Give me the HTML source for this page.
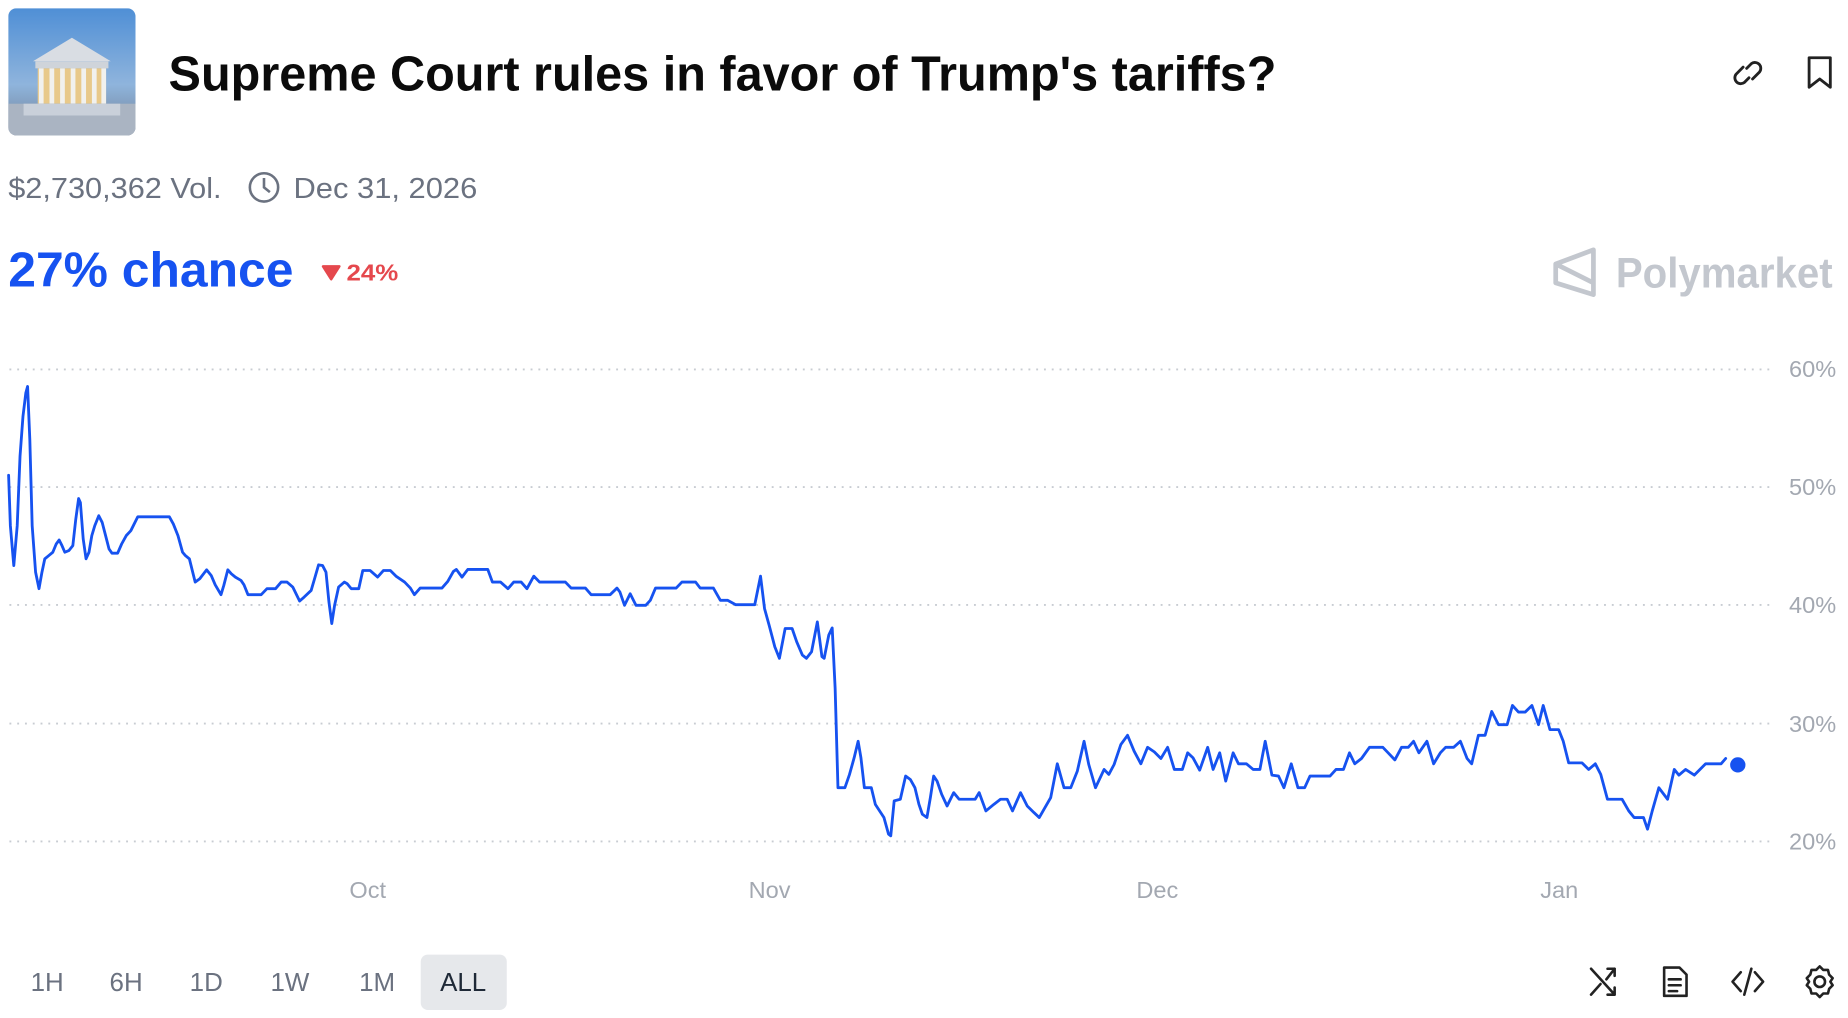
<!DOCTYPE html>
<html><head><meta charset="utf-8"><style>
html,body{margin:0;padding:0;background:#fff;width:1848px;height:1018px;overflow:hidden}
svg{display:block}
text{font-family:"Liberation Sans",sans-serif}
</style></head><body>
<svg id="s" width="1848" height="1018" viewBox="0 0 1568 863.8" preserveAspectRatio="none" xmlns="http://www.w3.org/2000/svg">
<defs>
<linearGradient id="sky" x1="0" y1="0" x2="0" y2="1"><stop offset="0" stop-color="#4f8fd6"/><stop offset="0.6" stop-color="#8fb4dc"/><stop offset="1" stop-color="#6f7f94"/></linearGradient>
<clipPath id="ic"><rect x="7" y="7" width="108" height="108" rx="7"/></clipPath>
</defs>
<g clip-path="url(#ic)">
<rect x="7" y="7" width="108" height="108" fill="url(#sky)"/>
<polygon points="28,52 61,32 94,52" fill="#d9dde3"/>
<rect x="30" y="52" width="62" height="6" fill="#cfd4da"/>
<rect x="32" y="58" width="58" height="30" fill="#e8c98a"/>
<g fill="#f1f1ee"><rect x="33" y="58" width="4" height="30"/><rect x="42" y="58" width="4" height="30"/><rect x="51" y="58" width="4" height="30"/><rect x="60" y="58" width="4" height="30"/><rect x="69" y="58" width="4" height="30"/><rect x="78" y="58" width="4" height="30"/><rect x="86" y="58" width="4" height="30"/></g>
<rect x="7" y="88" width="108" height="27" fill="#aab4c2"/>
<rect x="20" y="88" width="82" height="10" fill="#c9d0da"/>
</g>
<text x="143" y="77" font-size="42" font-weight="bold" fill="#0b0b0b" textLength="940" lengthAdjust="spacingAndGlyphs">Supreme Court rules in favor of Trump's tariffs?</text>
<!-- link icon -->
<g fill="none" stroke="#222" stroke-width="2.4" stroke-linecap="round">
<path d="M1479 57 l-6 6 a5 5 0 0 0 7 7 l4 -4"/>
<path d="M1487 67 l6 -6 a5 5 0 0 0 -7 -7 l-4 4"/>
<path d="M1535 49 h18 v25 l-9 -7 l-9 7 z" stroke-linejoin="round"/>
</g>
<text x="7" y="168" font-size="24" fill="#6b7280" textLength="181" lengthAdjust="spacingAndGlyphs">$2,730,362 Vol.</text>
<g fill="none" stroke="#6b7280" stroke-width="2.2"><circle cx="224" cy="159" r="12"/><path d="M224 151 v8 l5 4"/></g>
<text x="249" y="168" font-size="24" fill="#6b7280" textLength="156" lengthAdjust="spacingAndGlyphs">Dec 31, 2026</text>
<text x="7" y="243" font-size="42" font-weight="bold" fill="#1652f0" textLength="242" lengthAdjust="spacingAndGlyphs">27% chance</text>
<path d="M274 226 h14 l-7 11 z" fill="#e5484d" stroke="#e5484d" stroke-width="2" stroke-linejoin="round"/>
<text x="294" y="238" font-size="20" font-weight="bold" fill="#e5484d" textLength="44" lengthAdjust="spacingAndGlyphs">24%</text>
<!-- polymarket -->
<g fill="none" stroke="#c3c7ce" stroke-width="4" stroke-linejoin="round"><path d="M1352 212 L1320 224 V240 L1352 250 Z M1320 224 L1352 240"/></g>
<text x="1371" y="244" font-size="36" font-weight="bold" fill="#c3c7ce" textLength="184" lengthAdjust="spacingAndGlyphs">Polymarket</text>
<!-- grid -->
<g stroke="#c8ccd2" stroke-width="1.6" stroke-dasharray="1.6 5">
<line x1="8" x2="1505" y1="313.5" y2="313.5"/><line x1="8" x2="1505" y1="413.3" y2="413.3"/><line x1="8" x2="1505" y1="513.3" y2="513.3"/><line x1="8" x2="1505" y1="614" y2="614"/><line x1="8" x2="1505" y1="714" y2="714"/>
</g>
<g font-size="20" fill="#a3a8b1">
<text x="1518" y="320">60%</text><text x="1518" y="420">50%</text><text x="1518" y="520">40%</text><text x="1518" y="621">30%</text><text x="1518" y="721">20%</text>
<text x="312" y="762" text-anchor="middle">Oct</text><text x="653" y="762" text-anchor="middle">Nov</text><text x="982" y="762" text-anchor="middle">Dec</text><text x="1323" y="762" text-anchor="middle">Jan</text>
</g>
<path id="ln" fill="none" stroke="#1652f0" stroke-width="2.4" stroke-linejoin="round" stroke-linecap="round"/>
<circle cx="1474.5" cy="649" r="6.5" fill="#1652f0"/>
<!-- range buttons -->
<rect x="357" y="810" width="73" height="47" rx="6" fill="#e6e8eb"/>
<g font-size="22" fill="#6b7280" text-anchor="middle">
<text x="40" y="841">1H</text><text x="107" y="841">6H</text><text x="175" y="841">1D</text><text x="246" y="841">1W</text><text x="320" y="841">1M</text>
<text x="393" y="841" fill="#1f2937">ALL</text></g>
<g fill="none" stroke="#222" stroke-width="2.2" stroke-linecap="round" stroke-linejoin="round">
<path d="M1350 822 l20 22 M1350 844 l8 -9 M1363 831 l7 -9 M1364 822 h6 v6 M1364 844 h6 v-6"/>
<path d="M1412 821 h13 l6 6 v18 h-19 z M1416 831 h10 M1416 836 h10 M1416 841 h7"/>
<path d="M1477 825 l-7 8 l7 8 M1489 825 l7 8 l-7 8 M1486 822 l-6 22"/>
<circle cx="1544" cy="833" r="4.5"/>
<path d="M1544 820 l3 3 h4 l1 4 l3 3 l-2 3 l2 3 l-3 3 l-1 4 h-4 l-3 3 l-3 -3 h-4 l-1 -4 l-3 -3 l2 -3 l-2 -3 l3 -3 l1 -4 h4 z"/>
</g>
</svg>
<script>
var a=[15,408,18,560,24,680,30,560,35,350,40,230,45,160,48,140,52,300,56,560,62,700,68,750,73,700,78,660,85,650,92,640,98,615,103,603,108,620,113,640,120,635,127,620,132,540,137,478,140,490,145,600,150,660,155,640,160,590,165,560,172,530,178,550,184,590,190,630,195,643,205,643,212,615,220,590,228,575,240,533,295,533,302,555,310,590,318,640,323,650,330,660,340,730,348,720,360,693,368,710,375,738,385,768,390,740,397,693,403,705,410,715,420,725,425,738,432,768,455,768,465,750,480,750,490,730,500,730,510,745,522,787,530,775,542,755,548,720,555,678,562,680,568,700,573,790,578,855,583,800,590,745,600,730,605,735,612,750,625,750,632,695,645,695,658,715,668,695,680,695,690,712,705,730,715,748,722,768,732,748,770,748,780,728,790,698,795,692,805,715,815,692,850,692,858,730,872,730,885,750,895,730,908,730,918,750,930,712,940,730,985,730,995,748,1020,748,1030,768,1063,768,1075,748,1080,760,1088,800,1098,765,1108,800,1125,800,1133,785,1142,748,1178,748,1188,730,1212,730,1220,748,1243,748,1255,785,1268,785,1282,798,1315,798,1325,712,1332,810,1340,860,1350,925,1358,960,1368,870,1380,870,1388,910,1398,950,1405,960,1414,940,1424,850,1432,955,1436,960,1444,890,1450,868,1455,1050,1460,1350,1472,1350,1480,1310,1488,1260,1495,1210,1500,1260,1506,1350,1518,1350,1525,1400,1540,1440,1548,1490,1552,1495,1558,1390];
var b=[150,1385,158,1315,165,1325,172,1350,178,1400,183,1430,190,1440,195,1380,200,1315,205,1330,212,1370,220,1405,230,1365,238,1385,262,1385,268,1365,278,1420,290,1400,300,1385,310,1385,318,1420,330,1365,340,1405,350,1425,358,1440,365,1415,375,1380,385,1278,395,1350,405,1350,415,1300,425,1210,432,1280,442,1350,455,1295,462,1310,470,1280,480,1220,490,1192,500,1240,510,1278,520,1228,530,1242,540,1262,550,1228,560,1295,572,1295,580,1245,588,1260,598,1297,610,1228,618,1295,628,1245,637,1330,648,1245,656,1278,668,1278,678,1295,688,1295,696,1210,706,1312,716,1315,724,1350,735,1278,745,1350,755,1350,763,1315,793,1315,802,1295,813,1295,822,1245,830,1278,840,1262,852,1228,872,1228,880,1245,890,1266,900,1228,910,1228,918,1210,926,1245,938,1210,948,1278,958,1245,966,1228,978,1228,988,1210,998,1262,1005,1278,1015,1192,1025,1192,1035,1120,1045,1160,1058,1160,1066,1102,1075,1122,1085,1122,1095,1102,1105,1160,1112,1102,1122,1175,1135,1175,1142,1210,1150,1275,1170,1275,1180,1295,1190,1278,1198,1310,1208,1385,1230,1385,1240,1420,1248,1440,1262,1440,1268,1475,1275,1420,1285,1350,1298,1385,1308,1295,1315,1312,1325,1295,1338,1312,1355,1278,1378,1278,1385,1262];
var p=[];
for(var i=0;i<a.length;i+=2){p.push([a[i]*0.487,288.5+a[i+1]*0.2814]);}
for(var i=0;i<b.length;i+=2){p.push([678.8+b[i]*0.5671,288.5+b[i+1]*0.2814]);}
var d="M"+p.map(function(q){return q[0].toFixed(1)+" "+q[1].toFixed(1)}).join(" L");
document.getElementById("ln").setAttribute("d",d);
</script>
</body></html>
